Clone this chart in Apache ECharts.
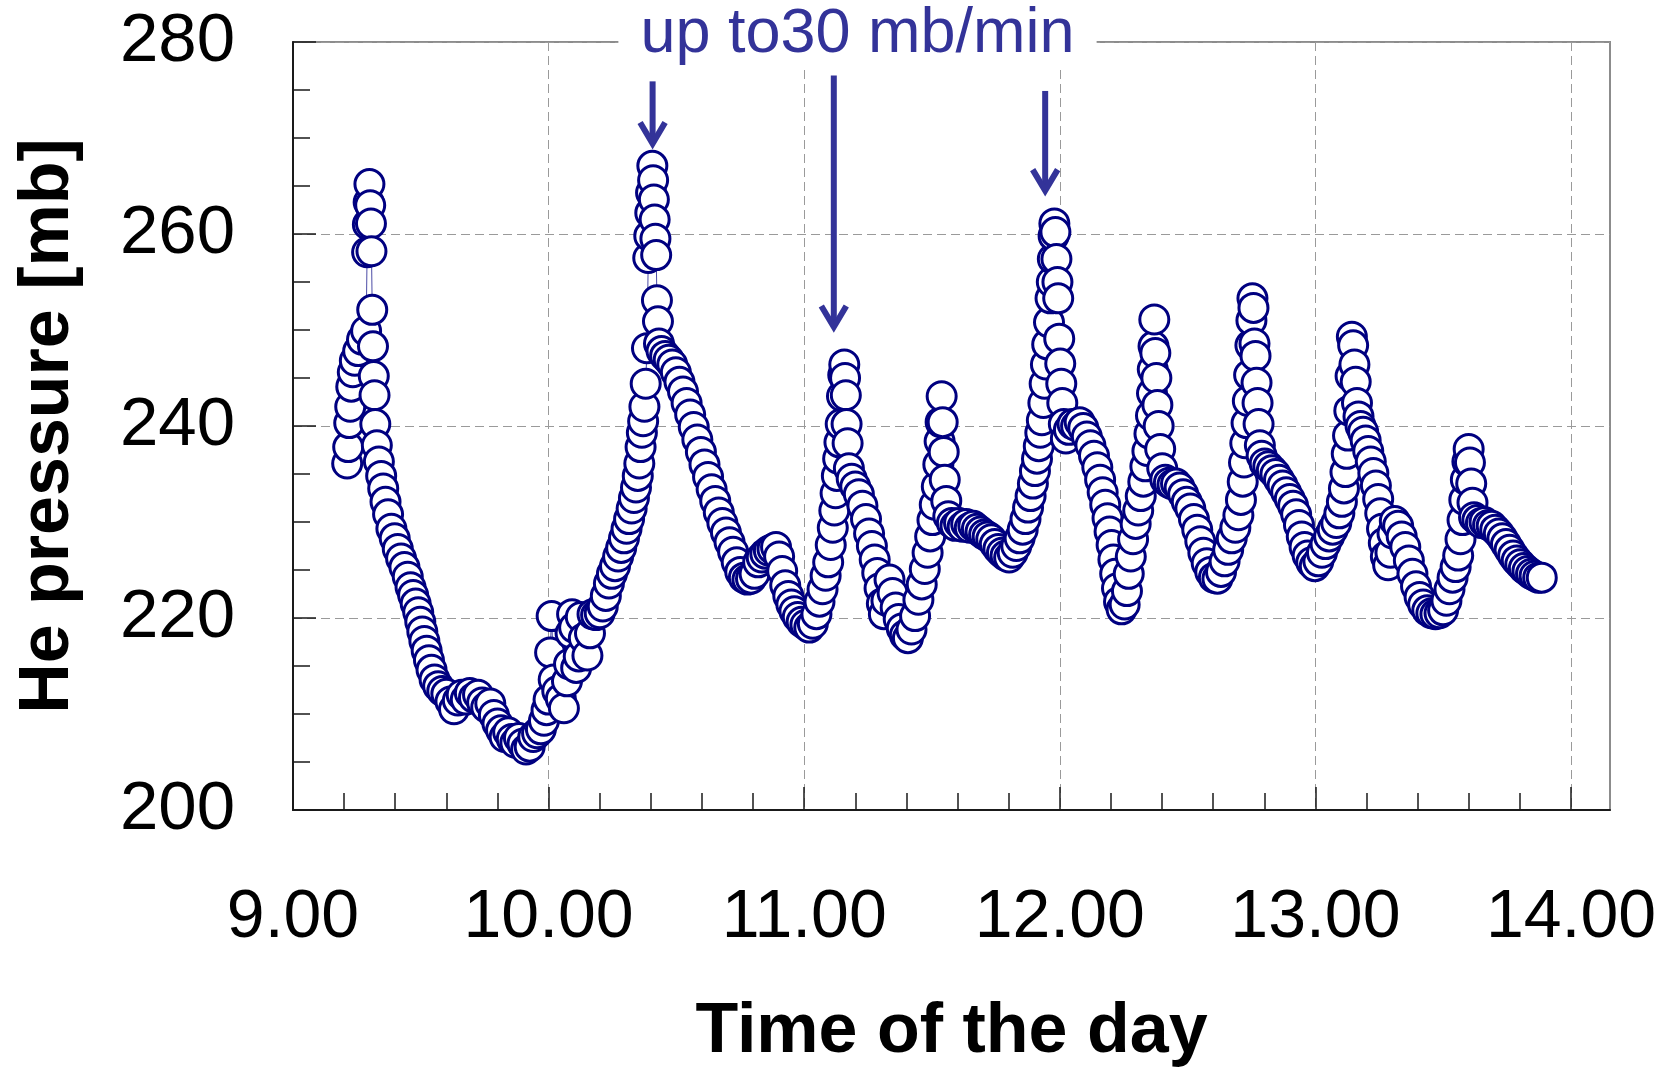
<!DOCTYPE html>
<html><head><meta charset="utf-8">
<script src="https://cdn.jsdelivr.net/npm/echarts@6/dist/echarts.min.js"></script>
<style>html,body{margin:0;padding:0;background:#fff}#c{width:1669px;height:1067px}</style>
</head><body><div id="c"></div>
<script>
// ---- data (time of day in decimal hours, He pressure in mb) ----
const xTickLabels = ['9.00','10.00','11.00','12.00','13.00','14.00'];
const annotationText = 'up to30 mb/min';
// [time, arrow start pressure, arrow tip pressure]
const arrowMarks = [[10.407, 275.9, 268.9], [11.116, 276.5, 249.8], [11.943, 274.9, 264.0]];

const firstSpike = [[9.212,236.1],[9.216,237.8],[9.220,240.3],[9.224,242.0],[9.228,244.1],[9.234,245.6],[9.242,246.8],[9.255,247.8],[9.270,249.0],[9.286,249.9],[9.290,258.1],[9.293,261.0],[9.296,263.3],[9.299,265.2],[9.302,263.0],[9.305,261.1],[9.307,258.2],[9.310,252.1],[9.313,248.3],[9.316,245.2],[9.319,243.2],[9.322,240.2],[9.328,238.0],[9.336,236.3],[9.345,234.8],[9.353,233.5],[9.362,232.1]];
const morningDip = [[9.372,230.8],[9.385,229.3],[9.398,228.3],[9.410,227.2],[9.423,226.2],[9.436,225.3],[9.449,224.3],[9.460,223.2],[9.470,222.4],[9.480,221.5],[9.490,220.6],[9.498,219.6],[9.506,218.6],[9.514,217.6],[9.523,216.6],[9.532,215.6],[9.542,214.6],[9.554,213.6],[9.568,212.9],[9.584,212.4],[9.600,212.1],[9.616,211.3],[9.630,210.5],[9.645,211.4],[9.660,212.0],[9.676,211.5],[9.692,212.2],[9.708,211.7],[9.724,212.0],[9.740,211.2],[9.756,210.7],[9.772,211.1],[9.786,209.9],[9.800,209.0],[9.814,208.3],[9.828,207.6],[9.842,208.1],[9.856,207.4],[9.870,207.0],[9.884,207.5],[9.898,206.9],[9.912,206.3],[9.926,206.6]];
const climbToPeak = [[9.940,207.6],[9.955,208.0],[9.970,208.4],[9.982,209.3],[9.992,210.4],[10.000,211.5],[10.006,216.4],[10.012,220.2],[10.020,213.6],[10.034,212.4],[10.048,211.6],[10.060,210.6],[10.072,213.4],[10.080,215.2],[10.086,218.4],[10.092,220.4],[10.100,219.0],[10.108,214.8],[10.118,216.0],[10.126,220.1],[10.138,217.9],[10.152,216.1],[10.162,218.4],[10.172,220.4],[10.186,220.3],[10.200,220.5],[10.212,221.2],[10.224,222.3],[10.236,223.6],[10.248,224.6],[10.260,225.4],[10.272,226.4],[10.284,227.3],[10.295,228.3],[10.305,229.3],[10.315,230.3],[10.325,231.4],[10.334,232.5],[10.342,233.6],[10.349,234.8],[10.355,236.1],[10.360,237.8],[10.365,239.3],[10.370,240.5],[10.375,242.0],[10.380,244.4],[10.385,248.1],[10.390,257.5],[10.394,259.8],[10.398,262.2],[10.401,264.3],[10.406,267.1],[10.409,265.6],[10.412,263.6],[10.415,261.5],[10.418,259.5],[10.421,257.8],[10.424,253.1],[10.428,250.9],[10.432,248.6]];
const lateMorning = [[10.442,247.8],[10.456,247.3],[10.470,246.9],[10.484,246.4],[10.498,245.6],[10.512,244.6],[10.526,243.6],[10.540,242.4],[10.554,241.2],[10.568,239.9],[10.582,238.6],[10.596,237.3],[10.610,236.0],[10.624,234.7],[10.638,233.4],[10.652,232.2],[10.666,231.0],[10.680,229.9],[10.694,228.9],[10.708,227.9],[10.722,226.9],[10.736,225.8],[10.750,224.8],[10.764,224.2],[10.778,224.0],[10.792,224.1],[10.806,224.6],[10.820,225.8],[10.834,226.3],[10.848,226.7],[10.862,227.0],[10.876,227.2],[10.890,227.4],[10.902,226.4],[10.914,224.9],[10.926,223.4],[10.938,222.3],[10.950,221.4],[10.962,220.7],[10.975,220.1],[10.990,219.6],[11.005,219.3],[11.020,219.0],[11.034,219.4],[11.048,220.4],[11.060,221.7]];
const elevenSpikes = [[11.072,223.0],[11.084,224.4],[11.094,225.8],[11.104,227.6],[11.112,229.4],[11.118,231.2],[11.123,233.0],[11.128,234.8],[11.133,236.6],[11.138,238.3],[11.143,240.2],[11.148,243.1],[11.153,245.3],[11.157,246.4],[11.160,245.0],[11.163,243.2],[11.166,240.2],[11.170,238.2],[11.175,235.6],[11.186,234.5],[11.200,233.7],[11.214,232.9],[11.228,231.7],[11.242,230.3],[11.254,228.8],[11.265,227.5],[11.276,226.1],[11.286,224.7],[11.295,223.1],[11.304,221.5],[11.312,220.4],[11.322,221.8],[11.334,224.0],[11.346,222.6],[11.358,221.1],[11.370,219.9],[11.382,218.9],[11.394,218.2],[11.406,217.9],[11.420,218.8],[11.434,220.2],[11.447,221.9],[11.460,223.5],[11.472,225.1],[11.483,226.8],[11.493,228.5],[11.502,230.2],[11.511,231.8],[11.519,233.7],[11.525,236.0],[11.530,238.4],[11.534,240.4],[11.538,243.1],[11.542,240.4],[11.546,237.3],[11.550,234.4],[11.556,232.2],[11.564,230.6]];
const noonPeak = [[11.578,229.9],[11.592,229.6],[11.606,229.9],[11.620,229.5],[11.634,229.8],[11.648,229.4],[11.662,229.6],[11.676,229.3],[11.690,229.0],[11.704,228.7],[11.718,228.5],[11.732,228.2],[11.746,227.7],[11.760,227.2],[11.774,226.8],[11.788,226.5],[11.802,226.3],[11.816,226.8],[11.830,227.5],[11.843,228.3],[11.855,229.2],[11.866,230.3],[11.876,231.5],[11.886,232.7],[11.895,234.0],[11.903,235.3],[11.911,236.6],[11.918,237.9],[11.924,239.3],[11.930,240.6],[11.936,242.4],[11.941,244.4],[11.946,246.4],[11.951,248.5],[11.958,250.8],[11.964,253.3],[11.969,255.0],[11.973,257.4],[11.976,259.8],[11.979,261.1],[11.983,260.2],[11.987,257.4],[11.991,255.0],[11.994,253.3],[11.998,249.1],[12.002,246.5],[12.006,244.4],[12.010,242.4],[12.016,240.2],[12.024,238.7]];
const earlyAfternoon = [[12.036,239.6],[12.050,240.2],[12.064,240.0],[12.078,240.4],[12.092,239.8],[12.106,238.9],[12.120,238.0],[12.134,236.9],[12.147,235.7],[12.158,234.4],[12.168,233.1],[12.178,231.8],[12.187,230.4],[12.195,229.0],[12.203,227.6],[12.210,226.1],[12.217,224.6],[12.224,223.1],[12.232,221.7],[12.242,220.9],[12.254,221.4],[12.263,222.8],[12.270,224.6],[12.278,226.4],[12.287,228.2],[12.297,229.8],[12.307,231.2],[12.317,232.7],[12.327,234.2],[12.335,235.8],[12.343,237.4],[12.351,239.2],[12.357,241.1],[12.361,243.4],[12.364,245.9],[12.367,248.3],[12.370,251.1],[12.374,247.6],[12.378,245.0],[12.382,242.2],[12.387,240.0],[12.393,237.6],[12.401,235.6],[12.413,234.4],[12.427,234.1],[12.441,233.9],[12.455,234.0],[12.469,233.6]];
const afternoonSpike = [[12.483,232.9],[12.497,232.1],[12.511,231.4],[12.525,230.3],[12.538,229.2],[12.550,228.0],[12.562,226.8],[12.575,225.7],[12.589,224.8],[12.603,224.2],[12.617,224.1],[12.631,224.8],[12.645,225.9],[12.659,227.1],[12.673,228.3],[12.687,229.4],[12.699,230.7],[12.709,232.3],[12.716,234.2],[12.721,236.2],[12.726,238.2],[12.731,240.3],[12.736,242.6],[12.741,245.3],[12.746,248.4],[12.750,251.0],[12.754,253.3],[12.758,252.3],[12.762,248.6],[12.766,247.3],[12.770,244.5],[12.774,242.4],[12.778,240.2],[12.783,238.0],[12.790,236.9],[12.802,236.1],[12.816,235.8],[12.830,235.4],[12.844,235.0],[12.858,234.4],[12.872,233.8],[12.886,233.1],[12.900,232.4],[12.913,231.7],[12.925,230.8],[12.936,229.7],[12.947,228.5],[12.958,227.4],[12.970,226.5],[12.984,225.8],[12.998,225.4]];
const thirteenSpike = [[13.012,225.9],[13.026,226.8],[13.040,227.7],[13.054,228.5],[13.068,229.2],[13.082,229.9],[13.094,230.9],[13.104,232.1],[13.112,233.5],[13.118,235.2],[13.123,237.1],[13.128,239.0],[13.133,241.6],[13.138,245.2],[13.143,249.3],[13.148,248.4],[13.153,246.4],[13.158,244.6],[13.163,242.4],[13.169,241.0],[13.177,240.0],[13.187,239.4],[13.197,238.5],[13.207,237.4],[13.217,236.3],[13.227,235.1],[13.237,233.8],[13.246,232.4],[13.254,230.9],[13.261,229.3],[13.268,227.8],[13.276,226.4],[13.285,225.5],[13.294,226.8],[13.302,228.8],[13.311,230.1],[13.324,229.6],[13.338,228.5],[13.352,227.4],[13.366,226.0],[13.380,224.6],[13.394,223.3],[13.408,222.2],[13.422,221.4],[13.438,220.8],[13.454,220.5],[13.470,220.4],[13.486,220.5],[13.500,220.8]];
const lastReadings = [[13.513,221.8],[13.525,223.0],[13.537,224.2],[13.549,225.3],[13.559,226.5],[13.568,228.2],[13.576,230.2],[13.583,232.3],[13.589,234.4],[13.595,236.3],[13.600,237.6],[13.605,236.2],[13.610,234.0],[13.615,232.0],[13.621,230.5],[13.634,230.2],[13.648,229.9],[13.662,230.0],[13.676,229.7],[13.690,229.6],[13.704,229.2],[13.718,228.8],[13.732,228.3],[13.746,227.7],[13.760,227.1],[13.774,226.5],[13.788,226.0],[13.802,225.6],[13.816,225.2],[13.830,224.9],[13.844,224.6],[13.858,224.4],[13.872,224.2],[13.886,224.2]];

const pressureSeries = [].concat(firstSpike, morningDip, climbToPeak, lateMorning, elevenSpikes,
  noonPeak, earlyAfternoon, afternoonSpike, thirteenSpike, lastReadings);

// ---- chart ----
const FONT = '"Liberation Sans", Arial, Helvetica, sans-serif';
const NAVY = '#000080';
const ANN = '#333399';
const chart = echarts.init(document.getElementById('c'), null, {renderer: 'canvas'});

const gridBox = {top: 42, bottom: 257, left: 293};
const option = {
  animation: false,
  backgroundColor: '#ffffff',
  grid: [
    Object.assign({right: 59, show: true, borderColor: '#8c8c8c', borderWidth: 2, backgroundColor: 'transparent', outerBoundsMode: 'none', containLabel: false}, gridBox),
    Object.assign({right: 98, show: false, outerBoundsMode: 'none', containLabel: false}, gridBox)
  ],
  xAxis: [
    { // data axis (full plot width)
      gridIndex: 0, type: 'value', min: 9, max: 14.153, position: 'bottom',
      axisLine: {show: true, onZero: false, lineStyle: {color: '#1a1a1a', width: 2}},
      axisTick: {show: false}, axisLabel: {show: false}, splitLine: {show: false},
      name: 'Time of the day', nameLocation: 'middle', nameGap: 188,
      nameTextStyle: {fontFamily: FONT, fontSize: 70, fontWeight: 'bold', color: '#000'}
    },
    { // tick / label / grid axis 9.00 .. 14.00
      gridIndex: 1, type: 'value', min: 9, max: 14, interval: 1, position: 'bottom',
      axisLine: {show: false},
      axisTick: {show: true, inside: true, length: 23, lineStyle: {color: '#1a1a1a', width: 1.5}},
      minorTick: {show: true, splitNumber: 5, length: 17, lineStyle: {color: '#1a1a1a', width: 1.5}},
      axisLabel: {show: true, margin: 74, fontFamily: FONT, fontSize: 68, color: '#000',
        formatter: v => xTickLabels[Math.round(v - 9)]},
      splitLine: {show: true, lineStyle: {color: '#9a9a9a', width: 1, type: [9, 5]}}
    }
  ],
  yAxis: [
    {
      gridIndex: 0, type: 'value', min: 200, max: 280, interval: 20, position: 'left',
      axisLine: {show: true, onZero: false, lineStyle: {color: '#1a1a1a', width: 2}},
      axisTick: {show: true, inside: true, length: 23, lineStyle: {color: '#1a1a1a', width: 1.5}},
      minorTick: {show: true, splitNumber: 4, length: 17, lineStyle: {color: '#1a1a1a', width: 1.5}},
      axisLabel: {show: true, margin: 58, fontFamily: FONT, fontSize: 69, color: '#000', padding: [7, 0, 0, 0]},
      splitLine: {show: true, lineStyle: {color: '#9a9a9a', width: 1, type: [9, 5]}},
      name: 'He pressure [mb]', nameLocation: 'middle', nameGap: 209, nameRotate: 90,
      nameTextStyle: {fontFamily: FONT, fontSize: 70, fontWeight: 'bold', color: '#000'}
    },
    {gridIndex: 1, type: 'value', min: 200, max: 280, show: false}
  ],
  series: [{
    type: 'line', xAxisIndex: 0, yAxisIndex: 0, data: pressureSeries,
    symbol: 'circle', symbolSize: 29, showSymbol: true, showAllSymbol: true,
    itemStyle: {color: '#ffffff', borderColor: NAVY, borderWidth: 3},
    lineStyle: {color: NAVY, width: 1, opacity: 0.7},
    emphasis: {disabled: true}, silent: true, z: 5
  }]
};
chart.setOption(option);

// annotation: title text breaking the top border, and arrows
const graphics = [{
  type: 'text', x: 857.5, y: 35, z: 100,
  style: {text: annotationText, fontFamily: FONT, fontSize: 63, fill: ANN,
    align: 'center', verticalAlign: 'middle', backgroundColor: '#ffffff', padding: [2, 22]}
}];
arrowMarks.forEach(([t, pTop, pTip]) => {
  const top = chart.convertToPixel({gridIndex: 0}, [t, pTop]);
  const tip = chart.convertToPixel({gridIndex: 0}, [t, pTip]);
  const x = top[0], apex = tip[1] - 5;
  graphics.push({type: 'line', z: 100, shape: {x1: x, y1: top[1], x2: x, y2: apex - 3},
    style: {stroke: ANN, lineWidth: 6}});
  graphics.push({type: 'polyline', z: 100,
    shape: {points: [[x - 12.5, apex - 21], [x, apex], [x + 12.5, apex - 21]]},
    style: {stroke: ANN, lineWidth: 6, lineJoin: 'miter', fill: null}});
});
chart.setOption({graphic: graphics});
</script>
</body></html>
